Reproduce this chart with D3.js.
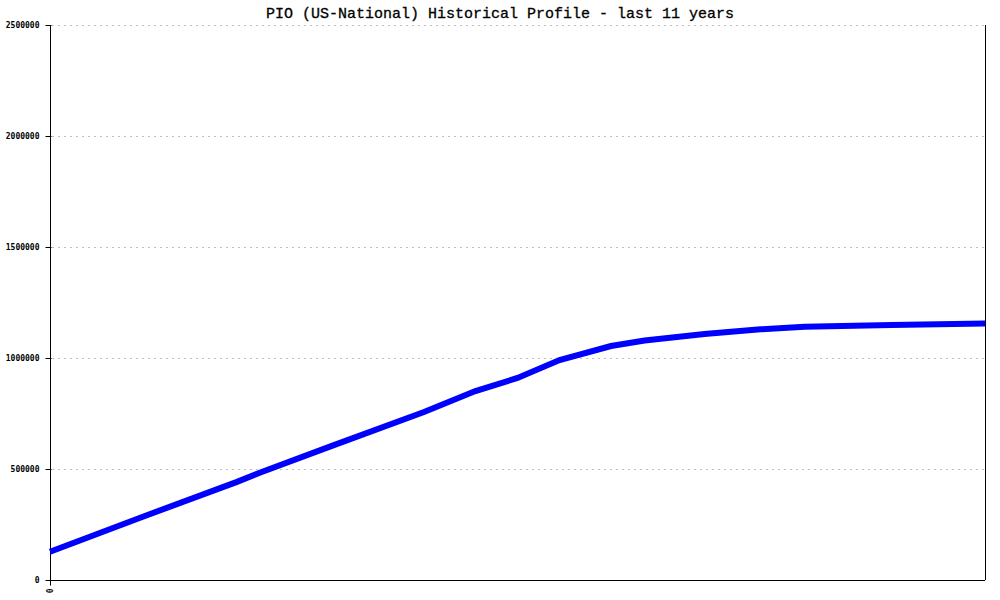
<!DOCTYPE html>
<html>
<head>
<meta charset="utf-8">
<title>PIO Historical Profile</title>
<script src="https://cdn.jsdelivr.net/npm/d3@7"></script>
<style>
  body { margin: 0; background: #fff; }
  .title { font: 15px "Liberation Mono", "DejaVu Sans Mono", monospace; stroke: #000; stroke-width: 0.3px; }
  .tick-label { font: bold 8px "DejaVu Sans Mono", monospace; }
</style>
</head>
<body>
<div id="viz"></div>
<script>
// DATA (years from start of period, members)
var years  = [0, 1, 2, 2.25, 3, 4, 4.55, 5, 5.45, 6, 6.36, 7, 7.6, 8.07, 9, 10];
var values = [127000, 286000, 442000, 484000, 602000, 757000, 851000, 910000,
              991000, 1054000, 1079000, 1108000, 1129000, 1141000, 1149000, 1155000];
var yTicks = [0, 500000, 1000000, 1500000, 2000000, 2500000];
var xTicks = [0];
var title = "PIO (US-National) Historical Profile - last 11 years";

(function(d3) {

  var w = 1000, h = 600;
  var mLeft = 50, mRight = 985, mTop = 25, mBottom = 580;

  var svg = d3.select("#viz").append("svg")
    .attr("width", w)
    .attr("height", h);

  var x = d3.scaleLinear().domain([0, 10]).range([mLeft, mRight]);
  var y = d3.scaleLinear().domain([0, 2500000]).range([mBottom, mTop]);

  // gridlines
  svg.selectAll("line.grid")
    .data(yTicks.filter(function(d) { return d > 0; }))
    .enter().append("line")
    .attr("class", "grid")
    .attr("x1", mLeft + 2).attr("x2", mRight)
    .attr("y1", function(d) { return Math.round(y(d)) + 0.5; })
    .attr("y2", function(d) { return Math.round(y(d)) + 0.5; })
    .attr("stroke", "#c0c0c0")
    .attr("stroke-dasharray", "2,4");

  // y axis
  var yAxis = d3.axisLeft(y).tickValues(yTicks).tickSize(5).tickPadding(6)
    .tickFormat(d3.format("d"));
  var gy = svg.append("g").attr("transform", "translate(" + (mLeft + 0.5) + ",0)").call(yAxis);
  gy.attr("font-family", null).attr("font-size", null);
  gy.select(".domain").attr("stroke", "#000").attr("d", "M0," + mTop + "V" + (mBottom + 5));
  gy.selectAll(".tick line").attr("stroke", "#000").attr("x2", -5).attr("x1", 1);
  gy.selectAll(".tick text").attr("class", "tick-label").attr("fill", "#000");

  // x axis
  var xAxis = d3.axisBottom(x).tickValues(xTicks).tickSize(5).tickFormat(d3.format("d"));
  var gx = svg.append("g").attr("transform", "translate(0," + (mBottom + 0.5) + ")").call(xAxis);
  gx.attr("font-family", null).attr("font-size", null);
  gx.select(".domain").attr("stroke", "#000").attr("d", "M" + mLeft + ",0H" + mRight);
  gx.selectAll(".tick line").attr("stroke", "#000");
  gx.selectAll(".tick text").attr("class", "tick-label").attr("fill", "#000")
    .attr("transform", "rotate(-90)")
    .attr("x", -8).attr("y", 0).attr("dy", "0.32em")
    .style("text-anchor", "end");

  // right border
  svg.append("line")
    .attr("x1", mRight + 0.5).attr("x2", mRight + 0.5)
    .attr("y1", mTop).attr("y2", mBottom)
    .attr("stroke", "#000");

  // series
  var line = d3.line()
    .x(function(d, i) { return x(years[i]); })
    .y(function(d) { return y(d); });

  svg.append("path")
    .datum(values)
    .attr("d", line)
    .attr("fill", "none")
    .attr("stroke", "#0000ff")
    .attr("stroke-width", 6);

  // title
  svg.append("text")
    .attr("class", "title")
    .attr("x", w / 2)
    .attr("y", 18)
    .attr("text-anchor", "middle")
    .text(title);

})(d3);
</script>
</body>
</html>
